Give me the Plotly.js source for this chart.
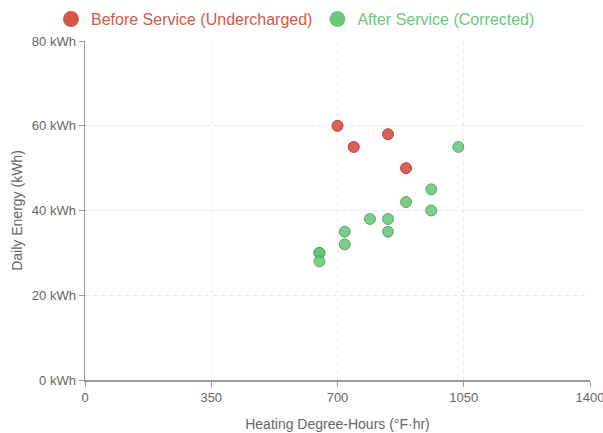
<!DOCTYPE html>
<html>
<head>
<meta charset="utf-8">
<script src="https://cdn.plot.ly/plotly-3.0.1.min.js"></script>
<style>html,body{margin:0;padding:0;background:#fff;}#chart{width:603px;height:433px;}</style>
</head>
<body>
<div id="chart"></div>
<script>
const beforeName = "Before Service (Undercharged)";
const afterName = "After Service (Corrected)";
const beforeX = [700, 745, 840, 890];
const beforeY = [60, 55, 58, 50];
const afterX = [1035, 960, 960, 890, 840, 840, 790, 720, 720, 650, 650, 650];
const afterY = [55, 45, 40, 42, 38, 35, 38, 35, 32, 30, 30, 28];
const xTicks = [0, 350, 700, 1050, 1400];
const yTicks = [0, 20, 40, 60, 80];

const red = "rgba(214,80,66,0.9)";
const redLine = "rgba(170,55,45,0.9)";
const green = "rgba(100,196,118,0.85)";
const greenLine = "rgba(70,160,90,0.85)";
const FONT = "'Liberation Sans', Arial, Helvetica, sans-serif";

const traces = [
  {x: beforeX, y: beforeY, type: "scatter", mode: "markers", showlegend: false,
   marker: {size: 11, color: red, line: {color: redLine, width: 1}}},
  {x: afterX, y: afterY, type: "scatter", mode: "markers", showlegend: false,
   marker: {size: 11, color: green, line: {color: greenLine, width: 1}}},
  {x: [null], y: [null], type: "scatter", mode: "markers",
   name: '<span style="color:#d6564a">' + beforeName + '</span>',
   marker: {size: 16, color: "#d6564a"}},
  {x: [null], y: [null], type: "scatter", mode: "markers",
   name: '<span style="color:#6cc77a">' + afterName + '</span>',
   marker: {size: 16, color: "#6cc77a"}}
];

const layout = {
  width: 603, height: 433,
  margin: {l: 84.5, r: 13, t: 41, b: 53, autoexpand: false},
  paper_bgcolor: "#fff", plot_bgcolor: "#fff",
  font: {family: FONT, color: "#666", size: 12},
  showlegend: true,
  legend: {orientation: "h", x: 0.49, xref: "container", xanchor: "center",
           y: 0.995, yref: "container", yanchor: "top",
           font: {size: 16, family: FONT}, tracegroupgap: 0},
  xaxis: {
    range: [0, 1400], tickvals: xTicks, ticktext: xTicks.map(String),
    showline: true, linecolor: "#999", linewidth: 1.5,
    ticks: "outside", ticklen: 5, tickcolor: "#999",
    showgrid: true, gridcolor: "#e8e8e8", griddash: "4px,4px", zeroline: false,
    tickfont: {size: 13, color: "#666"}, ticklabeloverflow: "allow",
    automargin: false,
    title: {text: "Heating Degree-Hours (°F·hr)", font: {size: 14, color: "#666"}, standoff: 15}
  },
  yaxis: {
    range: [0, 80], tickvals: yTicks, ticktext: yTicks.map(v => v + " kWh"),
    showline: true, linecolor: "#999", linewidth: 1.5,
    ticks: "outside", ticklen: 5, tickcolor: "#999",
    showgrid: true, gridcolor: "#e8e8e8", griddash: "4px,4px", zeroline: false,
    tickfont: {size: 13, color: "#666"}, automargin: false,
    title: {text: "Daily Energy (kWh)", font: {size: 14, color: "#666"}, standoff: 6}
  }
};

Plotly.newPlot("chart", traces, layout, {displayModeBar: false, staticPlot: true});
</script>
</body>
</html>
